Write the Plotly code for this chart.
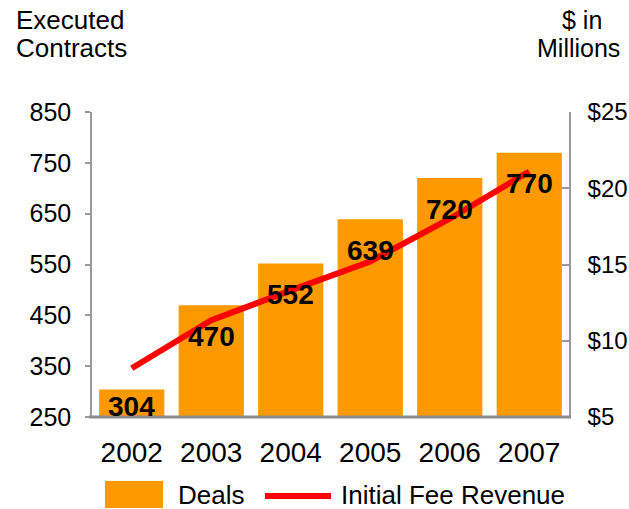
import plotly.graph_objects as go

# Executed contracts (bars, left axis) and initial fee revenue (line, right axis)
years = ["2002", "2003", "2004", "2005", "2006", "2007"]
deals = [304, 470, 552, 639, 720, 770]
fee_revenue = [8.2, 11.35, 13.3, 15.2, 18.0, 21.1]

left_ticks = [250, 350, 450, 550, 650, 750, 850]
right_ticks = [5, 10, 15, 20, 25]
right_labels = ["$5", "$10", "$15", "$20", "$25"]

ORANGE = "#FF9900"
RED = "#FF0000"
AXIS_GREY = "#999999"
FONT = "Liberation Sans, Arial, sans-serif"

W, H = 629, 509
L, R, T, B = 92, 60, 112, 92


def px_x(p):
    """Horizontal pixel position -> paper fraction."""
    return (p - L) / (W - L - R)


def px_y(p):
    """Vertical pixel position (from top) -> paper fraction."""
    return (H - B - p) / (H - T - B)


fig = go.Figure()

fig.add_trace(go.Bar(
    x=years, y=[d - 250 for d in deals], base=250,
    marker=dict(color=ORANGE, line=dict(width=0)),
    showlegend=False, hoverinfo="skip",
))

fig.add_trace(go.Scatter(
    x=years, y=fee_revenue, yaxis="y2", mode="lines",
    line=dict(color=RED, width=6),
    showlegend=False, hoverinfo="skip",
))

# Bold value labels sitting just inside the top of each bar
annotations = []
for i, d in enumerate(deals):
    annotations.append(dict(
        x=i, y=max(d - 61, 270), xref="x", yref="y",
        text=f"<b>{d}</b>", showarrow=False,
        xanchor="center", yanchor="middle",
        font=dict(family=FONT, size=28, color="black"),
    ))


def caption(text, x, y, xanchor, size, height):
    return dict(
        x=px_x(x), y=px_y(y), xref="paper", yref="paper", text=text,
        showarrow=False, xanchor=xanchor, yanchor="middle", height=height,
        font=dict(family=FONT, size=size, color="black"),
    )


# Axis captions
annotations += [
    caption("Executed", 14, 20, "left", 26, 27),
    caption("Contracts", 14, 47, "left", 26, 27),
    caption("$ in", 582, 20, "center", 25, 27),
    caption("Millions", 578, 47, "center", 25, 27),
]

# Legend entries
annotations += [
    caption("Deals", 176, 495, "left", 26, 26),
    caption("Initial Fee Revenue", 339, 495, "left", 26, 26),
]

shapes = [
    # legend swatches
    dict(type="rect", xref="paper", yref="paper",
         x0=px_x(105), x1=px_x(163), y0=px_y(508), y1=px_y(481),
         fillcolor=ORANGE, line=dict(width=0)),
    dict(type="line", xref="paper", yref="paper",
         x0=px_x(265), x1=px_x(331), y0=px_y(496), y1=px_y(496),
         line=dict(color=RED, width=6)),
    # heavier baseline
    dict(type="line", xref="paper", yref="paper",
         x0=px_x(89), x1=px_x(571), y0=0, y1=0,
         line=dict(color="#8C8C8C", width=3)),
]

fig.update_layout(
    template="none",
    width=W, height=H,
    margin=dict(l=L, r=R, t=T, b=B, pad=0, autoexpand=False),
    paper_bgcolor="white", plot_bgcolor="white",
    bargap=0.18,
    font=dict(family=FONT, color="black"),
    xaxis=dict(
        type="category", range=[-0.5, len(years) - 0.5], automargin=False,
        showgrid=False, zeroline=False, showline=False,
        ticks="", tickfont=dict(size=28, color="black"), ticklabelstandoff=16,
    ),
    yaxis=dict(
        range=[250, 850], tickvals=left_ticks, automargin=False,
        showgrid=False, zeroline=False,
        showline=True, linecolor=AXIS_GREY, linewidth=1.5,
        ticks="outside", ticklen=5, tickcolor=AXIS_GREY, tickwidth=1.5,
        tickfont=dict(size=25, color="black"), ticklabelstandoff=9,
    ),
    yaxis2=dict(
        range=[5, 25], tickvals=right_ticks, ticktext=right_labels,
        automargin=False,
        overlaying="y", side="right", showgrid=False, zeroline=False,
        showline=True, linecolor=AXIS_GREY, linewidth=1.5,
        ticks="inside", ticklen=7, tickcolor=AXIS_GREY, tickwidth=1.5,
        tickfont=dict(size=24, color="black"), ticklabelstandoff=12,
    ),
    annotations=annotations,
    shapes=shapes,
)

fig.write_html("out.html")
